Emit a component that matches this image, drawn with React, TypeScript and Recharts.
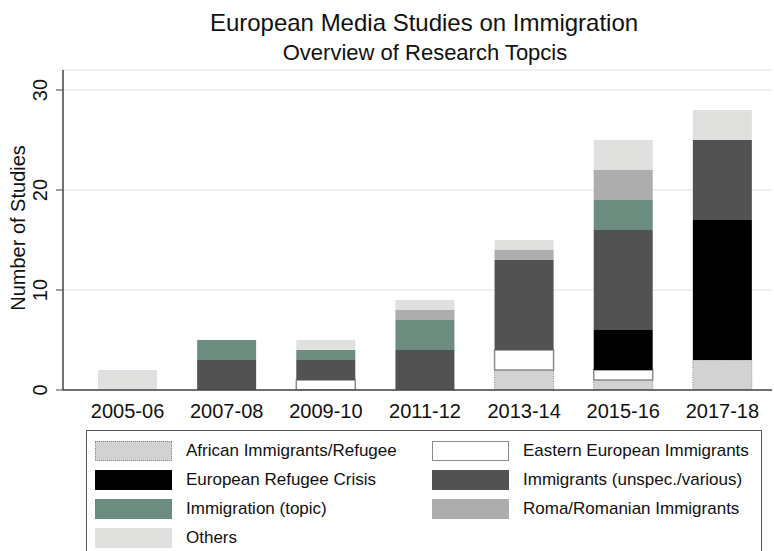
import { BarChart, Bar, XAxis, YAxis, CartesianGrid } from 'recharts';

// Periods on the x axis
const categories = ['2005-06', '2007-08', '2009-10', '2011-12', '2013-14', '2015-16', '2017-18'];

// Number of studies per topic (bottom to top)
const african = [0, 0, 0, 0, 2, 1, 3];
const eastern = [0, 0, 1, 0, 2, 1, 0];
const crisis = [0, 0, 0, 0, 0, 4, 14];
const unspec = [0, 3, 2, 4, 9, 10, 8];
const topic = [0, 2, 1, 3, 0, 3, 0];
const roma = [0, 0, 0, 1, 1, 3, 0];
const others = [2, 0, 1, 1, 1, 3, 3];

const yTicks = [0, 10, 20, 30];

const FONT = "'Liberation Sans', Arial, Helvetica, sans-serif";

const series = [
  { key: 'african', name: 'African Immigrants/Refugee', values: african, fill: '#d2d2d2', stroke: '#8a8a8a', dash: '1 1.5', sw: 1 },
  { key: 'eastern', name: 'Eastern European Immigrants', values: eastern, fill: '#ffffff', stroke: '#8c8c8c', dash: undefined, sw: 1.5 },
  { key: 'crisis', name: 'European Refugee Crisis', values: crisis, fill: '#000000', stroke: 'none', dash: undefined, sw: 0 },
  { key: 'unspec', name: 'Immigrants (unspec./various)', values: unspec, fill: '#525252', stroke: 'none', dash: undefined, sw: 0 },
  { key: 'topic', name: 'Immigration (topic)', values: topic, fill: '#6b8d80', stroke: 'none', dash: undefined, sw: 0 },
  { key: 'roma', name: 'Roma/Romanian Immigrants', values: roma, fill: '#adadad', stroke: 'none', dash: undefined, sw: 0 },
  { key: 'others', name: 'Others', values: others, fill: '#e0e0de', stroke: 'none', dash: undefined, sw: 0 },
];

const data = categories.map((period, i) => {
  const row: any = { period };
  series.forEach(s => { row[s.key] = s.values[i]; });
  return row;
});

const YTick = ({ x, y, payload }: any) => (
  <text
    transform={`translate(${x - 7},${y}) rotate(-90)`}
    textAnchor="middle"
    fontSize={20}
    fontFamily={FONT}
    fill="#111"
  >
    {payload.value}
  </text>
);

const XTick = ({ x, y, payload }: any) => (
  <text x={x} y={y + 28} textAnchor="middle" fontSize={20} fontFamily={FONT} fill="#111">
    {payload.value}
  </text>
);

function LegendBox() {
  return (
    <div
      style={{
        position: 'absolute',
        left: 86,
        top: 430,
        width: 676,
        height: 140,
        border: '1.5px solid #555',
        boxSizing: 'border-box',
        fontFamily: FONT,
        fontSize: 17,
        color: '#111',
      }}
    >
      {series.map((s, i) => {
        const col = i % 2;
        const row = Math.floor(i / 2);
        return (
          <div key={s.key} style={{ position: 'absolute', left: col === 0 ? 8 : 345, top: 9 + row * 29, height: 21, display: 'flex', alignItems: 'center' }}>
            <div
              style={{
                width: 77,
                height: 20,
                boxSizing: 'border-box',
                background: s.fill,
                border: s.key === 'african' ? '1px dotted #8a8a8a' : s.key === 'eastern' ? '1.5px solid #8c8c8c' : 'none',
              }}
            />
            <span style={{ marginLeft: 14, whiteSpace: 'nowrap' }}>{s.name}</span>
          </div>
        );
      })}
    </div>
  );
}

export default function App() {
  return (
    <div style={{ position: 'absolute', left: 0, top: 0, width: 774, height: 551, overflow: 'hidden', background: '#fff' }}>
      <BarChart width={774} height={551} data={data} margin={{ top: 70, right: 2, bottom: 131, left: 0 }}>
        <CartesianGrid vertical={false} stroke="#e6eef1" strokeWidth={1.5} />
        <XAxis
          dataKey="period"
          height={30}
          tick={<XTick />}
          tickLine={false}
          tickSize={0}
          tickMargin={0}
          axisLine={{ stroke: '#444', strokeWidth: 1.5 }}
          padding={{ left: 15, right: 0 }}
          interval={0}
        />
        <YAxis
          width={63}
          domain={[0, 32]}
          ticks={yTicks}
          tick={<YTick />}
          tickSize={7}
          tickLine={{ stroke: '#444' }}
          axisLine={{ stroke: '#444', strokeWidth: 1.5 }}
          allowDataOverflow
        />
        {series.map(s => (
          <Bar
            key={s.key}
            dataKey={s.key}
            name={s.name}
            stackId="a"
            barSize={59}
            fill={s.fill}
            stroke={s.stroke}
            strokeWidth={s.sw}
            strokeDasharray={s.dash}
            isAnimationActive={false}
          />
        ))}
      </BarChart>
      <svg width={774} height={551} style={{ position: 'absolute', left: 0, top: 0, pointerEvents: 'none' }}>
        <text x={424} y={31} textAnchor="middle" fontSize={24} fontFamily={FONT} fill="#111">
          European Media Studies on Immigration
        </text>
        <text x={425} y={60} textAnchor="middle" fontSize={22} fontFamily={FONT} fill="#111">
          Overview of Research Topcis
        </text>
        <text transform="translate(25,228) rotate(-90)" textAnchor="middle" fontSize={20} fontFamily={FONT} fill="#111">
          Number of Studies
        </text>
      </svg>
      <LegendBox />
    </div>
  );
}
